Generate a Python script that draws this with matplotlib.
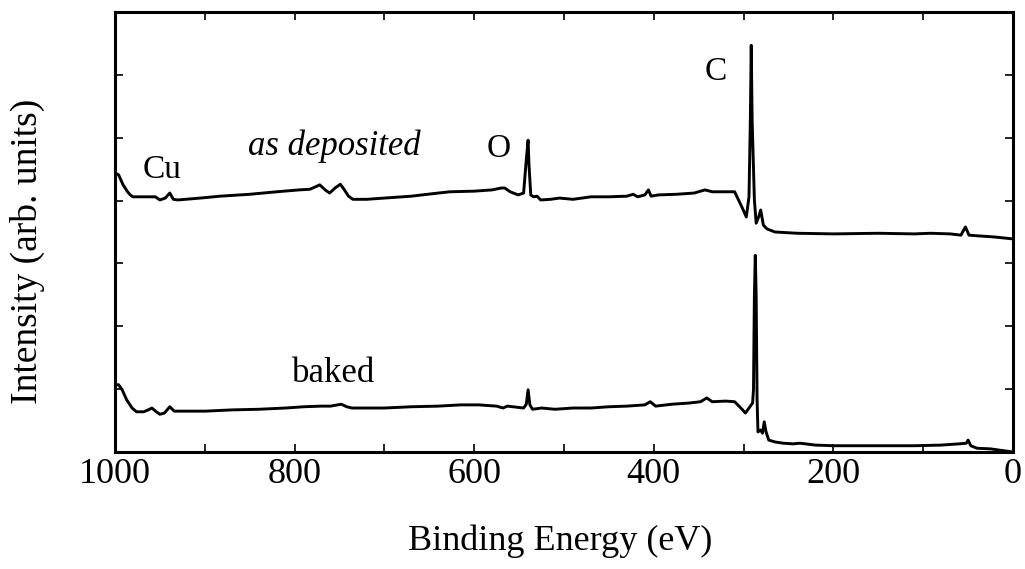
import matplotlib
matplotlib.use("Agg")
import matplotlib.pyplot as plt
from matplotlib.ticker import MultipleLocator, FixedLocator

plt.rcParams["font.family"] = ["Liberation Serif", "DejaVu Serif"]

# XPS survey spectra, binding energy (eV) vs intensity (arb. units, offset)
dep_ev = [1000, 996, 991, 986, 983, 980, 970, 960, 955, 950, 944, 939, 935, 930,
          905, 883, 850, 820, 795, 783, 775, 772, 766, 761, 755, 749, 745, 740,
          735, 720, 700, 670, 640, 627, 600, 580, 570, 566, 560, 551, 545, 542,
          540, 539, 537, 534, 530, 526, 515, 505, 490, 470, 450, 430, 423, 418,
          410, 406, 403, 395, 375, 355, 343, 335, 320, 310, 302, 297, 294, 292.5,
          291.5, 290.5, 288, 286, 283, 281, 278, 274, 265, 240, 200, 150, 110,
          92, 70, 58, 53, 49, 40, 20, 0]
dep_int = [4.44, 4.41, 4.25, 4.14, 4.09, 4.06, 4.06, 4.06, 4.06, 4.01, 4.04, 4.12,
           4.02, 4.01, 4.04, 4.07, 4.10, 4.14, 4.17, 4.18, 4.23, 4.25, 4.17, 4.12,
           4.20, 4.26, 4.18, 4.07, 4.02, 4.02, 4.04, 4.07, 4.12, 4.14, 4.15, 4.17,
           4.20, 4.20, 4.14, 4.09, 4.12, 4.65, 4.96, 4.57, 4.09, 4.06, 4.07, 4.01,
           4.02, 4.04, 4.02, 4.06, 4.06, 4.07, 4.10, 4.06, 4.09, 4.17, 4.07, 4.09,
           4.10, 4.12, 4.17, 4.14, 4.14, 4.14, 3.90, 3.74, 4.06, 5.28, 6.47, 5.28,
           4.01, 3.64, 3.75, 3.85, 3.61, 3.55, 3.50, 3.48, 3.47, 3.48, 3.47, 3.48,
           3.47, 3.45, 3.58, 3.45, 3.44, 3.42, 3.39]

baked_ev = [1000, 996, 992, 987, 981, 976, 968, 963, 959, 954, 950, 945, 939, 934,
            920, 900, 870, 840, 810, 790, 770, 760, 752, 748, 742, 736, 720, 700,
            670, 640, 615, 595, 575, 568, 563, 545, 542, 540, 538, 535, 525, 510,
            490, 470, 450, 430, 410, 404, 398, 380, 360, 348, 341, 335, 320, 310,
            303, 298, 293, 290, 289, 288, 287, 286, 285, 284, 281, 279, 277, 275,
            272, 265, 256, 245, 237, 220, 200, 150, 110, 80, 60, 52, 50, 47, 40,
            25, 10, 0]
baked_int = [1.07, 1.07, 0.99, 0.83, 0.70, 0.64, 0.64, 0.67, 0.70, 0.64, 0.60,
             0.62, 0.72, 0.65, 0.65, 0.65, 0.67, 0.68, 0.70, 0.72, 0.73, 0.73,
             0.75, 0.76, 0.72, 0.70, 0.70, 0.70, 0.72, 0.73, 0.75, 0.75, 0.73,
             0.70, 0.73, 0.70, 0.76, 0.99, 0.75, 0.68, 0.70, 0.68, 0.70, 0.70,
             0.72, 0.73, 0.75, 0.80, 0.73, 0.76, 0.78, 0.80, 0.86, 0.80, 0.81,
             0.80, 0.70, 0.62, 0.72, 0.78, 0.99, 2.47, 3.13, 2.47, 0.83, 0.32,
             0.35, 0.30, 0.48, 0.32, 0.19, 0.16, 0.14, 0.13, 0.14, 0.11, 0.10,
             0.10, 0.10, 0.11, 0.13, 0.14, 0.19, 0.10, 0.06, 0.05, 0.02, 0.0]

x_major = [1000, 800, 600, 400, 200, 0]
y_ticks = [1, 2, 3, 4, 5, 6]

fig = plt.figure(figsize=(10.25, 5.69), dpi=100)
ax = fig.add_axes([0.1122, 0.2056, 0.8761, 0.7733])

ax.plot(dep_ev, dep_int, color="black", lw=2.1, solid_joinstyle="round")
ax.plot(baked_ev, baked_int, color="black", lw=2.1, solid_joinstyle="round")

ax.set_xlim(1000, 0)
ax.set_ylim(0, 7)

ax.xaxis.set_major_locator(FixedLocator(x_major))
ax.xaxis.set_minor_locator(MultipleLocator(100))
ax.yaxis.set_major_locator(FixedLocator(y_ticks))
ax.set_yticklabels([])
ax.tick_params(which="both", direction="in", top=True, right=True,
               length=6, width=1.2)
ax.tick_params(axis="x", labelsize=26, pad=4)
for s in ax.spines.values():
    s.set_linewidth(2.2)

ax.set_xlabel("Binding Energy (eV)", fontsize=26)
ax.xaxis.set_label_coords(0.4955, -0.165)
ax.set_ylabel("Intensity (arb. units)", fontsize=27)
ax.yaxis.set_label_coords(-0.078, 0.457)

# peak / sample labels
ax.text(969, 4.36, "Cu", fontsize=24, ha="left", va="baseline")
ax.text(852, 4.72, "as deposited", fontsize=25, style="italic",
        ha="left", va="baseline")
ax.text(586, 4.69, "O", fontsize=24, ha="left", va="baseline")
ax.text(343, 5.92, "C", fontsize=24, ha="left", va="baseline")
ax.text(803, 1.11, "baked", fontsize=25, ha="left", va="baseline")

fig.savefig("out.png", dpi=100, facecolor="white")
